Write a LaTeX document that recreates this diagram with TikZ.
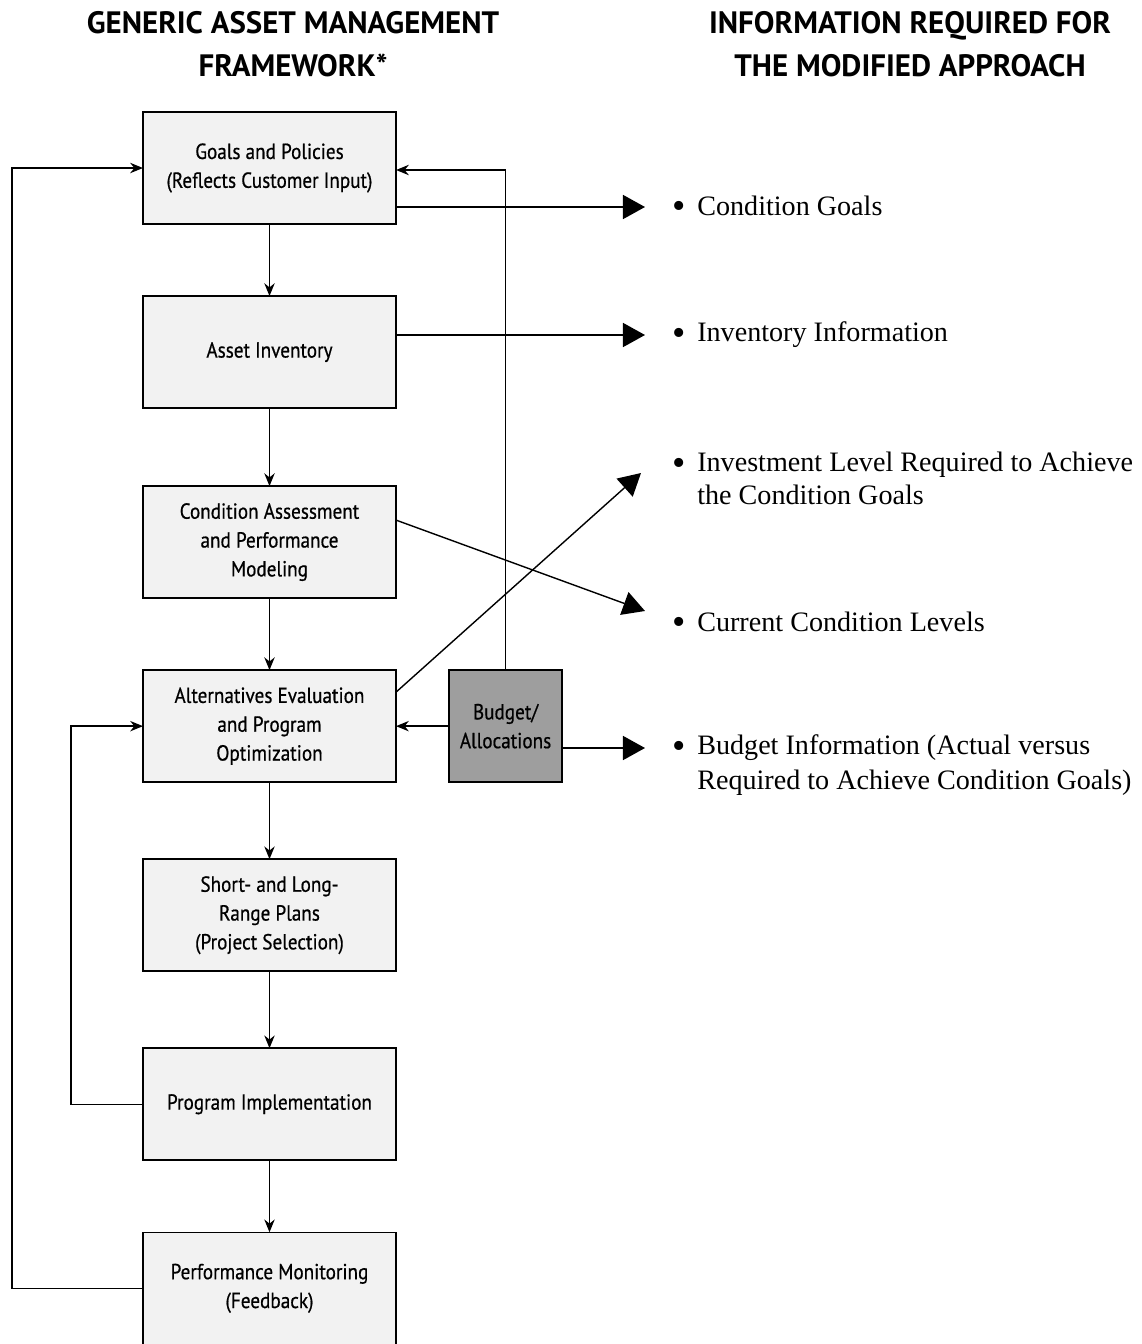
\documentclass[tikz,border=0pt]{standalone}
\usepackage{fontspec}
\setmainfont{Liberation Serif}
\setsansfont{PT Sans}
\newfontfamily\boxfont[FakeStretch=0.88, FakeBold=0.6]{PT Sans}
\usepackage{tikz}
\usetikzlibrary{positioning, calc, arrows.meta}
\definecolor{boxgray}{gray}{0.95}
\definecolor{budgetgray}{gray}{0.62}
\newcommand{\itembullet}{\raisebox{-0.12em}{\scalebox{1.35}{\textbullet}}}

\begin{document}
\begin{tikzpicture}[x=0.025cm, y=-0.025cm, every node/.style={transform shape}]
		\tikzstyle{stepbox}=[draw=black, line width=1.1pt, minimum height=2.8cm, minimum width=6.325cm, outer sep=0pt, fill=boxgray, align=center, font=\boxfont\fontsize{15.5}{20.5}\selectfont, text=black]
		\tikzstyle{budgetbox}=[stepbox, minimum width=2.825cm, fill=budgetgray]
		\tikzstyle{heading}=[align=center, font=\sffamily\bfseries\fontsize{22}{31}\selectfont, text=black]
		\tikzstyle{item}=[anchor=west, inner xsep=0.675cm, inner ysep=0pt, outer sep=0pt, font=\fontsize{20}{23}\selectfont, text=black]
		\tikzstyle{itemcont}=[anchor=west, inner sep=0pt, font=\fontsize{20}{23}\selectfont, text=black]
		\tikzstyle{flow}=[draw=black, line width=1pt, -{Stealth[length=0.32cm, width=0.26cm]}]
		\tikzstyle{info}=[draw=black, line width=1pt, -{Triangle[length=0.55cm, width=0.6cm]}]
		
		\useasboundingbox (0,0) rectangle (1142,1344);
		
		%% headings
		\node[heading] (H1) at (293,44) {GENERIC ASSET MANAGEMENT\\FRAMEWORK*};
		\node[heading] (H2) at (910,44) {INFORMATION REQUIRED FOR\\THE MODIFIED APPROACH};
		
		%% framework boxes
		\node[stepbox] (G1) at (269.5,168) {Goals and Policies\\(Reflects Customer Input)};
		\node[stepbox, below=1.8cm of G1] (G2) {Asset Inventory};
		\node[stepbox, below=1.95cm of G2] (G3) {Condition Assessment\\and Performance\\Modeling};
		\node[stepbox, below=1.8cm of G3] (G4) {Alternatives Evaluation\\and Program\\Optimization};
		\node[stepbox, below=1.925cm of G4] (G5) {Short- and Long-\\Range Plans\\(Project Selection)};
		\node[stepbox, below=1.925cm of G5] (G6) {Program Implementation};
		\node[stepbox, below=1.8cm of G6] (G7) {Performance Monitoring\\(Feedback)};
		\node[budgetbox, right=1.325cm of G4] (BA) {Budget/\\Allocations};
		
		%% information items
		\node[item] (I1) at (645,207) {\itembullet\hspace{0.3cm}Condition Goals};
		\node[item] (I2) at (645,335) {\itembullet\hspace{0.3cm}Inventory Information};
		\node[item] (I3) at (645,465) {\itembullet\hspace{0.3cm}Investment Level Required to Achieve};
		\node[itemcont] (I3b) at (697,495) {the Condition Goals};
		\node[item] (I4) at (645,623) {\itembullet\hspace{0.3cm}Current Condition Levels};
		\node[item] (I5) at (645,748) {\itembullet\hspace{0.3cm}Budget Information (Actual versus};
		\node[itemcont] (I5b) at (697,783) {Required to Achieve Condition Goals)};
		
		%% main flow
		\draw[flow] (G1) -- (G2);
		\draw[flow] (G2) -- (G3);
		\draw[flow] (G3) -- (G4);
		\draw[flow] (G4) -- (G5);
		\draw[flow] (G5) -- (G6);
		\draw[flow] (G6) -- (G7);
		
		%% feedback loops
		\draw[flow] (G7.west) -- ++(-3.275cm,0) |- (G1.west);
		\draw[flow] (G6.west) -- ++(-1.8cm,0) |- (G4.west);
		\draw[flow] (BA.north) |- ([yshift=-0.05cm]G1.east);
		\draw[flow] (BA.west) -- (G4.east);
		
		%% required information
		\draw[info] (G1.east |- I1.west) -- (I1.west);
		\draw[info] (G2.east |- I2.west) -- (I2.west);
		\draw[info] ([yshift=0.55cm]G3.east) -- ([yshift=0.3cm]I4.west);
		\draw[info] ([yshift=0.85cm]G4.east) -- ([xshift=-0.1cm, yshift=-0.2cm]I3.west);
		\draw[info] (BA.east |- I5.west) -- (I5.west);
		
		\end{tikzpicture}
\end{document}
